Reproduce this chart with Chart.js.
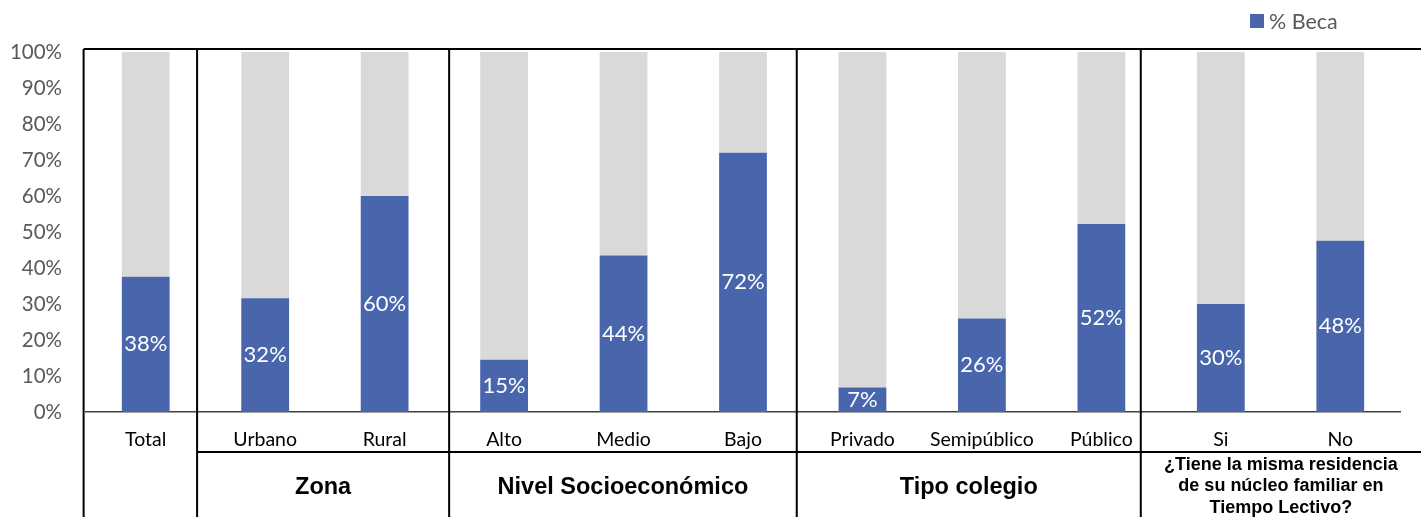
<!DOCTYPE html>
<html>
<head>
<meta charset="utf-8">
<script src="https://cdn.jsdelivr.net/npm/chart.js@4.4.1/dist/chart.umd.min.js"></script>
<style>
  html, body { margin: 0; padding: 0; background: #fff; }
  #wrap { width: 1421px; height: 517px; }
</style>
</head>
<body>
<div id="wrap"><canvas id="chart" width="1421" height="517"></canvas></div>
<script>
// Categories and values (share with scholarship, %)
const categories = ['Total', 'Urbano', 'Rural', 'Alto', 'Medio', 'Bajo', 'Privado', 'Semipúblico', 'Público', 'Si', 'No'];
const becaValues = [37.6, 31.6, 60.0, 14.5, 43.5, 72.0, 6.8, 26.0, 52.2, 30.0, 47.6];
const restValues = becaValues.map(v => 100 - v);
const yTicks = [0, 10, 20, 30, 40, 50, 60, 70, 80, 90, 100];

// Group row under the category labels
const groupNames = ['', 'Zona', 'Nivel Socioeconómico', 'Tipo colegio',
  ['¿Tiene la misma residencia', 'de su núcleo familiar en', 'Tiempo Lectivo?']];
// separator positions in category units (table cell borders)
const groupEdges = [-0.52, 0.43, 2.54, 5.45, 8.33];

const BLUE = '#4966AC';
const GREY = '#D9D9D9';

const tablePlugin = {
  id: 'tablePlugin',
  afterDraw(chart) {
    const ctx = chart.ctx;
    const x = chart.scales.x;
    const area = chart.chartArea;
    const step = x.getPixelForValue(1) - x.getPixelForValue(0);
    const px = i => x.getPixelForValue(0) + i * step;
    const W = chart.width, H = chart.height;
    const topY = area.top - 3;
    const rowY = area.bottom + 40;

    ctx.save();
    ctx.strokeStyle = '#000';
    ctx.lineWidth = 2;
    ctx.beginPath();
    ctx.moveTo(px(groupEdges[0]), topY);
    ctx.lineTo(W, topY);
    groupEdges.forEach(e => {
      ctx.moveTo(px(e), topY);
      ctx.lineTo(px(e), H);
    });
    ctx.moveTo(px(groupEdges[1]), rowY);
    ctx.lineTo(W, rowY);
    ctx.stroke();

    // group labels
    ctx.fillStyle = '#000';
    ctx.textAlign = 'center';
    ctx.textBaseline = 'middle';
    groupNames.forEach((name, i) => {
      if (!name) return;
      const left = px(groupEdges[i]);
      const right = i + 1 < groupEdges.length ? px(groupEdges[i + 1]) : W;
      const cx = (left + right) / 2;
      if (Array.isArray(name)) {
        ctx.font = 'bold 18px "Liberation Sans", Arial, sans-serif';
        name.forEach((line, j) => ctx.fillText(line, cx, rowY + 13 + j * 21.5));
      } else {
        ctx.font = 'bold 23.5px "Liberation Sans", Arial, sans-serif';
        ctx.fillText(name, cx, rowY + 36);
      }
    });

    // legend
    ctx.fillStyle = BLUE;
    ctx.fillRect(area.right - 150, 14, 14, 14);
    ctx.fillStyle = '#595959';
    ctx.textAlign = 'left';
    ctx.font = '21.5px Lato, "Open Sans", sans-serif';
    ctx.fillText('% Beca', area.right - 131, 22);
    ctx.restore();
  },
  afterDatasetsDraw(chart) {
    const ctx = chart.ctx;
    const meta = chart.getDatasetMeta(0);
    ctx.save();
    ctx.fillStyle = '#fff';
    ctx.font = '22px Lato, "Open Sans", sans-serif';
    ctx.textAlign = 'center';
    ctx.textBaseline = 'middle';
    meta.data.forEach((bar, i) => {
      ctx.fillText(Math.round(becaValues[i]) + '%', bar.x, (bar.y + bar.base) / 2);
    });
    ctx.restore();
  }
};

new Chart(document.getElementById('chart'), {
  type: 'bar',
  data: {
    labels: categories,
    datasets: [
      { label: '% Beca', data: becaValues, backgroundColor: BLUE },
      { label: 'Resto', data: restValues, backgroundColor: GREY }
    ]
  },
  options: {
    responsive: false,
    animation: false,
    devicePixelRatio: 1,
    categoryPercentage: 1,
    barPercentage: 0.4,
    layout: { padding: { top: 52, right: 21, left: 0, bottom: 0 } },
    plugins: {
      legend: { display: false },
      tooltip: { enabled: false }
    },
    scales: {
      x: {
        stacked: true,
        grid: { display: false, drawTicks: false },
        border: { display: true, color: '#404040', width: 1.5 },
        ticks: {
          color: '#000',
          font: { family: 'Lato, "Open Sans", sans-serif', size: 19.5 },
          padding: 16,
          maxRotation: 0,
          autoSkip: false
        },
        afterFit(s) { s.height = 105; }
      },
      y: {
        stacked: true,
        min: 0,
        max: 100,
        grid: { display: false, drawTicks: false },
        border: { display: false },
        afterBuildTicks(s) { s.ticks = yTicks.map(v => ({ value: v })); },
        ticks: {
          color: '#595959',
          font: { family: 'Lato, "Open Sans", sans-serif', size: 20.5 },
          padding: 24,
          callback: v => v + '%'
        },
        afterFit(s) { s.width = 86; }
      }
    }
  },
  plugins: [tablePlugin]
});
</script>
</body>
</html>
